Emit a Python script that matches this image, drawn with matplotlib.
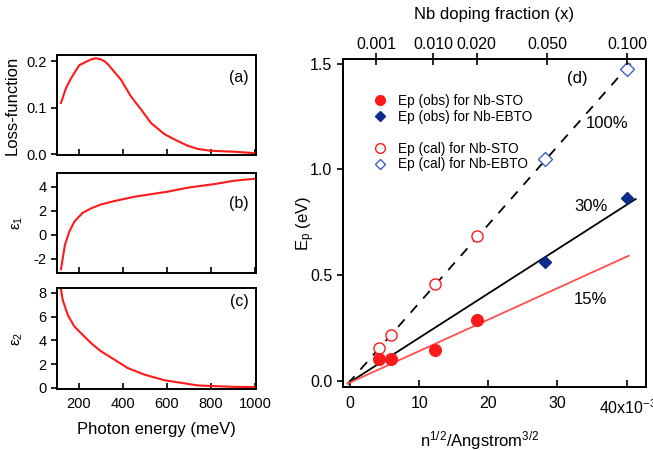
import matplotlib
matplotlib.use("Agg")
from matplotlib import pyplot as plt
from matplotlib.lines import Line2D
import numpy as np

plt.rcParams['font.family'] = ['Liberation Sans', 'DejaVu Sans']
plt.rcParams['mathtext.fontset'] = 'custom'
plt.rcParams['mathtext.rm'] = 'Liberation Sans'
plt.rcParams['mathtext.it'] = 'Liberation Sans:italic'
plt.rcParams['axes.linewidth'] = 1.4
plt.rcParams['axes.unicode_minus'] = False

# ... optical functions vs photon energy (meV)
loss_e = [118, 141, 164, 201, 239, 258, 277, 296, 315, 334, 353, 391, 436, 482, 527, 588, 649, 694, 740, 800, 906, 997]
loss_v = [0.110, 0.142, 0.163, 0.191, 0.200, 0.204, 0.206, 0.204, 0.200, 0.192, 0.181, 0.160, 0.124, 0.096, 0.067,
          0.043, 0.028, 0.018, 0.011, 0.007, 0.005, 0.002]

eps1_e = [118, 136, 156, 179, 217, 255, 300, 361, 452, 603, 694, 815, 906, 997]
eps1_v = [-2.86, -0.84, 0.27, 1.10, 1.84, 2.20, 2.53, 2.81, 3.17, 3.59, 3.92, 4.22, 4.50, 4.66]

eps2_e = [118, 126, 149, 179, 209, 255, 300, 361, 421, 497, 588, 664, 740, 815, 906, 997]
eps2_v = [8.30, 7.39, 6.13, 5.16, 4.60, 3.76, 3.07, 2.37, 1.67, 1.11, 0.64, 0.42, 0.20, 0.14, 0.08, 0.06]

# ... plasma energy vs n^1/2 (x10^-3 Angstrom^-3/2)
sto_x = [4.2, 5.9, 12.35, 18.4]
sto_obs = [0.106, 0.103, 0.145, 0.286]
sto_cal = [0.158, 0.218, 0.46, 0.686]
ebto_x = [28.2, 40.0]
ebto_obs = [0.564, 0.864]
ebto_cal = [1.048, 1.476]

fit_x100 = [-0.3, 41.2]
fit_y100 = [-0.013, 1.524]
fit_x30 = [-0.3, 41.3]
fit_y30 = [-0.012, 0.860]
fit_x15 = [-0.3, 40.3]
fit_y15 = [-0.012, 0.592]

dop_frac = ['0.001', '0.010', '0.020', '0.050', '0.100']
dop_pos = [3.8, 12.0, 18.3, 28.5, 40.1]

fig = plt.figure(figsize=(6.53, 4.5), dpi=100)

red = '#ff1a1a'
# ... left panels
ax_a = fig.add_axes([0.0873, 0.6556, 0.3047, 0.2222])
ax_b = fig.add_axes([0.0873, 0.3933, 0.3047, 0.2222])
ax_c = fig.add_axes([0.0873, 0.1356, 0.3047, 0.2244])

ax_a.plot(loss_e, loss_v, color=red, lw=1.5)
ax_b.plot(eps1_e, eps1_v, color=red, lw=1.5)
ax_c.plot(eps2_e, eps2_v, color=red, lw=1.5)

ax_a.set_ylim(-0.002, 0.213)
ax_a.set_yticks([0.0, 0.1, 0.2])
ax_a.set_yticklabels(['0.0', '0.1', '0.2'])
ax_b.set_ylim(-3.17, 5.14)
ax_b.set_yticks([-2, 0, 2, 4])
ax_c.set_ylim(-0.1, 8.4)
ax_c.set_yticks([0, 2, 4, 6, 8])

for ax, lab, ly, ylab, lx in [(ax_a, '(a)', 0.77, 'Loss-function', -0.19),
                              (ax_b, '(b)', 0.695, 'ε$_1$', -0.16),
                              (ax_c, '(c)', 0.866, 'ε$_2$', -0.16)]:
    ax.set_xlim(100, 1005)
    ax.set_xticks([200, 400, 600, 800, 1000])
    ax.tick_params(axis='x', direction='in', length=4, width=1.2, labelsize=10.5, top=False, pad=6)
    ax.tick_params(axis='y', direction='out', length=4, width=1.2, labelsize=10.5, right=False)
    ax.text(0.965, ly, lab, transform=ax.transAxes, ha='right', va='center', fontsize=11.5)
    ax.set_ylabel(ylab, fontsize=12 if ax is ax_a else 11)
    ax.yaxis.set_label_coords(lx, 0.5)
    if ax is not ax_c:
        ax.set_xticklabels([])

ax_c.set_xlabel('Photon energy (meV)', fontsize=12)
ax_c.xaxis.set_label_coords(0.5, -0.33)

# ... right panel
ax_d = fig.add_axes([0.5248, 0.1393, 0.4645, 0.7296])
l100, = ax_d.plot(fit_x100, fit_y100, color='black', lw=1.3)
l100.set_dashes([5.5, 5])
ax_d.plot(fit_x30, fit_y30, color='black', lw=1.3)
ax_d.plot(fit_x15, fit_y15, color='#ff4d4d', lw=1.3)

navy = '#0a2a8c'
lblue = '#3d5fcc'
ax_d.plot(sto_x, sto_cal, 'o', ms=8, mfc='white', mec=red, mew=1.0, ls='none')
ax_d.plot(sto_x, sto_obs, 'o', ms=8.4, color=red, ls='none')
ax_d.plot(ebto_x, ebto_cal, 'D', ms=7, mfc='white', mec=lblue, mew=1.0, ls='none')
ax_d.plot(ebto_x, ebto_obs, 'D', ms=6.3, color=navy, ls='none')

ax_d.set_xlim(-1.05, 42.8)
ax_d.set_ylim(-0.03, 1.522)
ax_d.set_xticks([0, 10, 20, 30, 40])
ax_d.set_xticklabels(['0', '10', '20', '30', ''])
ax_d.set_yticks([0.0, 0.5, 1.0, 1.5])
ax_d.set_yticklabels(['0.0', '0.5', '1.0', '1.5'])
ax_d.tick_params(axis='x', direction='in', length=5, width=1.2, labelsize=11.5, pad=6)
ax_d.tick_params(axis='y', direction='out', length=4, width=1.2, labelsize=11.5)
ax_d.text(36.0, -0.063, '40x10$^{-3}$', transform=ax_d.get_xaxis_transform(),
          ha='left', va='center', fontsize=11.5, clip_on=False)

ax_d.set_xlabel('n$^{1/2}$/Angstrom$^{3/2}$', fontsize=12)
ax_d.xaxis.set_label_coords(0.453, -0.128)
ax_d.set_ylabel('E$_\\mathrm{p}$ (eV)', fontsize=12)
ax_d.yaxis.set_label_coords(-0.085, 0.5)

ax_top = ax_d.twiny()
ax_top.set_xlim(ax_d.get_xlim())
ax_top.set_xticks(dop_pos)
ax_top.set_xticklabels(dop_frac)
ax_top.tick_params(axis='x', direction='inout', length=8, width=1.2, labelsize=11.5, pad=1)
ax_top.set_xlabel('Nb doping fraction (x)', fontsize=12, labelpad=13)

ax_d.text(32.8, 1.43, '(d)', ha='center', va='center', fontsize=12)
ax_d.text(37.2, 1.218, '100%', ha='center', va='center', fontsize=12)
ax_d.text(34.8, 0.827, '30%', ha='center', va='center', fontsize=12)
ax_d.text(34.8, 0.383, '15%', ha='center', va='center', fontsize=12)

handles = [
    Line2D([], [], marker='o', ls='none', ms=7, color=red),
    Line2D([], [], marker='D', ls='none', ms=5.5, color=navy),
    Line2D([], [], ls='none'),
    Line2D([], [], marker='o', ls='none', ms=7, mfc='white', mec=red, mew=1.0),
    Line2D([], [], marker='D', ls='none', ms=5.5, mfc='white', mec=lblue, mew=1.0),
]
labels = ['Ep (obs) for Nb-STO', 'Ep (obs) for Nb-EBTO', '',
          'Ep (cal) for Nb-STO', 'Ep (cal) for Nb-EBTO']
ax_d.legend(handles, labels, loc='upper left', bbox_to_anchor=(0.1, 0.894),
            frameon=False, fontsize=9.8, handlelength=1.0, handletextpad=0.8,
            labelspacing=0.14, borderpad=0, borderaxespad=0)

plt.savefig("out.png", dpi=100)
